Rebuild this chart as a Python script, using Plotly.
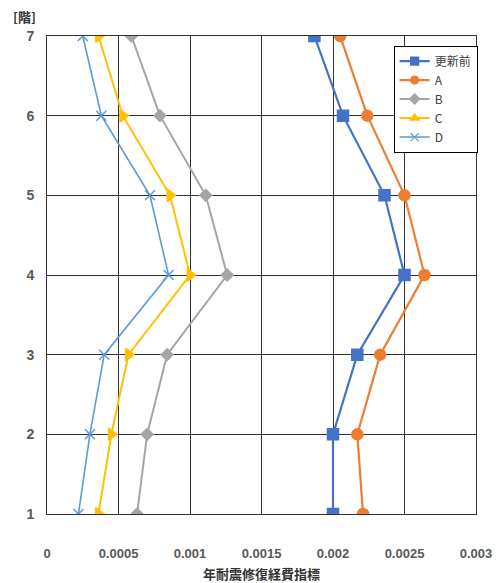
import plotly.graph_objects as go

# 階 (floor) levels
floors = [1, 2, 3, 4, 5, 6, 7]

# 年耐震修復経費指標 per floor for each case
before = [0.00200, 0.00200, 0.00217, 0.00250, 0.00236, 0.00207, 0.00187]
case_a = [0.00221, 0.00217, 0.00233, 0.00264, 0.00250, 0.00224, 0.00205]
case_b = [0.00063, 0.00070, 0.00084, 0.00126, 0.00111, 0.00079, 0.00059]
case_c = [0.00036, 0.00045, 0.00057, 0.00100, 0.00086, 0.00053, 0.00036]
case_d = [0.00022, 0.00030, 0.00040, 0.00085, 0.00072, 0.00038, 0.00025]

x_ticks = [0, 0.0005, 0.001, 0.0015, 0.002, 0.0025, 0.003]
x_tick_text = ["0", "0.0005", "0.001", "0.0015", "0.002", "0.0025", "0.003"]
y_ticks = floors
y_tick_text = [str(f) for f in floors]

FONT = "Noto Sans CJK JP"
TICK_FONT = "Liberation Sans"
TICK_COLOR = "#595959"

series = [
    ("更新前", before, "#4472C4", "square", "square", 11, 2.2),
    ("A", case_a, "#ED7D31", "circle", "circle", 11, 2.2),
    ("B", case_b, "#A5A5A5", "diamond", "diamond", 9, 2.0),
    ("C", case_c, "#FFC000", "triangle-right", "triangle-up", 11, 2.0),
    ("D", case_d, "#5B9BD5", "x-thin-open", "x-thin-open", 10, 1.6),
]

fig = go.Figure()
for name, vals, color, sym, leg_sym, size, lw in series:
    fig.add_trace(go.Scatter(
        x=vals, y=floors, mode="lines+markers", name=name,
        legendgroup=name, showlegend=False,
        line=dict(color=color, width=lw),
        marker=dict(symbol=sym, size=size, color=color,
                    line=dict(color=color, width=1.5)),
    ))
    # legend entry with its own marker style
    fig.add_trace(go.Scatter(
        x=[None], y=[None], mode="lines+markers", name=name,
        legendgroup=name,
        line=dict(color=color, width=lw),
        marker=dict(symbol=leg_sym, size=8, color=color,
                    line=dict(color=color, width=1.2)),
    ))

fig.update_layout(
    width=501, height=583,
    margin=dict(l=47, r=25, t=36, b=69),
    paper_bgcolor="white", plot_bgcolor="white",
    font=dict(family=FONT, size=12, color=TICK_COLOR),
    legend=dict(
        x=0.808, y=0.98, xanchor="left", yanchor="top",
        bgcolor="white", bordercolor="black", borderwidth=1,
        font=dict(family=FONT, size=12, color="#404040"),
        itemwidth=30, tracegroupgap=0,
    ),
    xaxis=dict(
        range=[0, 0.003], tickvals=x_ticks, ticktext=x_tick_text,
        showgrid=True, gridcolor="#333333", gridwidth=1,
        zeroline=False, showline=True, linecolor="#333333", linewidth=1,
        mirror=True, ticks="", ticklabelstandoff=27, automargin=False,
        tickfont=dict(family=TICK_FONT, size=13, color=TICK_COLOR, weight="bold"),
        title=dict(text="年耐震修復経費指標", standoff=14,
                   font=dict(family=FONT, size=13, color="#333333", weight="bold")),
    ),
    yaxis=dict(
        range=[1, 7], tickvals=y_ticks, ticktext=y_tick_text,
        showgrid=True, gridcolor="#333333", gridwidth=1,
        zeroline=False, showline=True, linecolor="#333333", linewidth=1,
        mirror=True, ticks="", ticklabelstandoff=9, automargin=False,
        tickfont=dict(family=TICK_FONT, size=14, color=TICK_COLOR, weight="bold"),
    ),
    annotations=[dict(
        text="[階]", xref="paper", yref="paper", x=-0.084, y=1.04,
        xanchor="left", yanchor="middle", showarrow=False,
        font=dict(family=FONT, size=13, color="#333333", weight="bold"),
    )],
)

fig.write_html("out.html")
